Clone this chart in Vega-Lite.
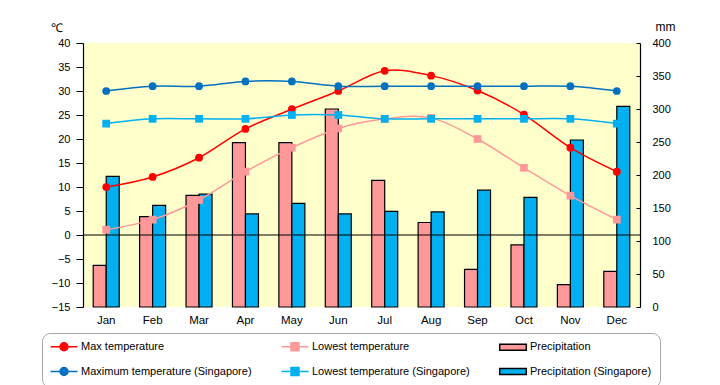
{
  "$schema": "https://vega.github.io/schema/vega-lite/v6.json",
  "width": 557,
  "height": 264,
  "autosize": {"type": "none"},
  "padding": {"left": 83, "top": 43, "right": 80, "bottom": 78},
  "background": "white",
  "config": {
    "view": {"fill": "#FFFFCC", "stroke": null},
    "font": "Liberation Sans",
    "axis": {"labelColor": "black", "labelFont": "Liberation Sans", "labelFontSize": 11, "labelOverlap": false, "grid": false, "domainColor": "black", "tickColor": "black", "titleColor": "black", "titleFont": "Liberation Sans", "titleFontWeight": "normal", "titleFontSize": 12}
  },
  "datasets": {
    "climate": [
      {"month": "Jan", "series": "Max temperature", "value": 10},
      {"month": "Feb", "series": "Max temperature", "value": 12.1},
      {"month": "Mar", "series": "Max temperature", "value": 16.1},
      {"month": "Apr", "series": "Max temperature", "value": 22.1},
      {"month": "May", "series": "Max temperature", "value": 26.2},
      {"month": "Jun", "series": "Max temperature", "value": 30},
      {"month": "Jul", "series": "Max temperature", "value": 34.2},
      {"month": "Aug", "series": "Max temperature", "value": 33.2},
      {"month": "Sep", "series": "Max temperature", "value": 30.1},
      {"month": "Oct", "series": "Max temperature", "value": 25.1},
      {"month": "Nov", "series": "Max temperature", "value": 18.2},
      {"month": "Dec", "series": "Max temperature", "value": 13.2},
      {"month": "Jan", "series": "Lowest temperature", "value": 1.1},
      {"month": "Feb", "series": "Lowest temperature", "value": 3.2},
      {"month": "Mar", "series": "Lowest temperature", "value": 7.3},
      {"month": "Apr", "series": "Lowest temperature", "value": 13.2},
      {"month": "May", "series": "Lowest temperature", "value": 18.2},
      {"month": "Jun", "series": "Lowest temperature", "value": 22.2},
      {"month": "Jul", "series": "Lowest temperature", "value": 24.2},
      {"month": "Aug", "series": "Lowest temperature", "value": 24.4},
      {"month": "Sep", "series": "Lowest temperature", "value": 20},
      {"month": "Oct", "series": "Lowest temperature", "value": 14},
      {"month": "Nov", "series": "Lowest temperature", "value": 8.2},
      {"month": "Dec", "series": "Lowest temperature", "value": 3.2},
      {"month": "Jan", "series": "Precipitation", "value": 63},
      {"month": "Feb", "series": "Precipitation", "value": 137},
      {"month": "Mar", "series": "Precipitation", "value": 169},
      {"month": "Apr", "series": "Precipitation", "value": 249},
      {"month": "May", "series": "Precipitation", "value": 249},
      {"month": "Jun", "series": "Precipitation", "value": 300},
      {"month": "Jul", "series": "Precipitation", "value": 192},
      {"month": "Aug", "series": "Precipitation", "value": 128},
      {"month": "Sep", "series": "Precipitation", "value": 57},
      {"month": "Oct", "series": "Precipitation", "value": 94},
      {"month": "Nov", "series": "Precipitation", "value": 34},
      {"month": "Dec", "series": "Precipitation", "value": 54},
      {"month": "Jan", "series": "Maximum temperature (Singapore)", "value": 30},
      {"month": "Feb", "series": "Maximum temperature (Singapore)", "value": 31},
      {"month": "Mar", "series": "Maximum temperature (Singapore)", "value": 31},
      {"month": "Apr", "series": "Maximum temperature (Singapore)", "value": 32},
      {"month": "May", "series": "Maximum temperature (Singapore)", "value": 32},
      {"month": "Jun", "series": "Maximum temperature (Singapore)", "value": 31},
      {"month": "Jul", "series": "Maximum temperature (Singapore)", "value": 31},
      {"month": "Aug", "series": "Maximum temperature (Singapore)", "value": 31},
      {"month": "Sep", "series": "Maximum temperature (Singapore)", "value": 31},
      {"month": "Oct", "series": "Maximum temperature (Singapore)", "value": 31},
      {"month": "Nov", "series": "Maximum temperature (Singapore)", "value": 31},
      {"month": "Dec", "series": "Maximum temperature (Singapore)", "value": 30},
      {"month": "Jan", "series": "Lowest temperature (Singapore)", "value": 23.2},
      {"month": "Feb", "series": "Lowest temperature (Singapore)", "value": 24.2},
      {"month": "Mar", "series": "Lowest temperature (Singapore)", "value": 24.2},
      {"month": "Apr", "series": "Lowest temperature (Singapore)", "value": 24.2},
      {"month": "May", "series": "Lowest temperature (Singapore)", "value": 25},
      {"month": "Jun", "series": "Lowest temperature (Singapore)", "value": 25},
      {"month": "Jul", "series": "Lowest temperature (Singapore)", "value": 24.2},
      {"month": "Aug", "series": "Lowest temperature (Singapore)", "value": 24.2},
      {"month": "Sep", "series": "Lowest temperature (Singapore)", "value": 24.2},
      {"month": "Oct", "series": "Lowest temperature (Singapore)", "value": 24.2},
      {"month": "Nov", "series": "Lowest temperature (Singapore)", "value": 24.2},
      {"month": "Dec", "series": "Lowest temperature (Singapore)", "value": 23.2},
      {"month": "Jan", "series": "Precipitation (Singapore)", "value": 198},
      {"month": "Feb", "series": "Precipitation (Singapore)", "value": 154},
      {"month": "Mar", "series": "Precipitation (Singapore)", "value": 171},
      {"month": "Apr", "series": "Precipitation (Singapore)", "value": 141},
      {"month": "May", "series": "Precipitation (Singapore)", "value": 157},
      {"month": "Jun", "series": "Precipitation (Singapore)", "value": 141},
      {"month": "Jul", "series": "Precipitation (Singapore)", "value": 145},
      {"month": "Aug", "series": "Precipitation (Singapore)", "value": 144},
      {"month": "Sep", "series": "Precipitation (Singapore)", "value": 177},
      {"month": "Oct", "series": "Precipitation (Singapore)", "value": 166},
      {"month": "Nov", "series": "Precipitation (Singapore)", "value": 253},
      {"month": "Dec", "series": "Precipitation (Singapore)", "value": 304}
    ]
  },
  "data": {"name": "climate"},
  "layer": [
    {
      "transform": [{"filter": {"field": "series", "oneOf": ["Precipitation", "Precipitation (Singapore)"]}}],
      "mark": {"type": "bar", "stroke": "black", "strokeWidth": 1.2},
      "encoding": {
        "x": {"field": "month", "type": "nominal", "sort": ["Jan","Feb","Mar","Apr","May","Jun","Jul","Aug","Sep","Oct","Nov","Dec"], "scale": {"paddingInner": 0.44, "paddingOuter": 0.22}, "axis": {"title": null, "domain": false, "ticks": false, "tickSize": 0, "labelPadding": 7, "labelAngle": 0, "labelFontSize": 11.5}},
        "xOffset": {"field": "series", "type": "nominal", "sort": ["Precipitation", "Precipitation (Singapore)"], "scale": {"paddingInner": 0, "paddingOuter": 0}},
        "y": {"field": "value", "type": "quantitative", "scale": {"domain": [0, 400], "nice": false}, "axis": {"orient": "right", "values": [0,50,100,150,200,250,300,350,400], "tickCount": 9, "labelOverlap": false, "title": "mm", "titleAngle": 0, "titleX": 25, "titleY": -17, "titleAlign": "center", "titleBaseline": "middle", "tickSize": -4, "labelPadding": 16, "domainWidth": 1.2}},
        "color": {"field": "series", "type": "nominal", "scale": {"domain": ["Max temperature", "Lowest temperature", "Precipitation", "Maximum temperature (Singapore)", "Lowest temperature (Singapore)", "Precipitation (Singapore)"], "range": ["#FF0000", "#FF9999", "#FF9999", "#0070C0", "#00B0F0", "#00B0F0"]},
          "legend": {"title": null, "orient": "none", "legendX": -41, "legendY": 290, "columns": 3, "direction": "horizontal", "gridAlign": "each", "columnPadding": 26, "rowPadding": 10, "padding": 8, "symbolSize": 64, "symbolStrokeWidth": 1.5, "labelFont": "Liberation Sans", "labelFontSize": 11, "labelColor": "black", "labelOffset": 20, "labelLimit": 400, "strokeColor": "#A6A6A6", "fillColor": "white", "cornerRadius": 8,
            "encoding": {"symbols": {"stroke": {"value": {"expr": "indexof(datum.value, 'Precipitation') === 0 ? 'black' : scale('color', datum.value)"}}, "strokeWidth": {"value": 1.5}, "opacity": {"value": 1}}}}}
      }
    },
    {
      "layer": [
        {
          "data": {"values": [{}]},
          "mark": {"type": "rule", "color": "black", "strokeWidth": 1.2},
          "encoding": {"y": {"datum": 0, "type": "quantitative"}}
        },
        {
          "transform": [{"filter": {"field": "series", "oneOf": ["Max temperature", "Lowest temperature", "Maximum temperature (Singapore)", "Lowest temperature (Singapore)"]}}],
          "mark": {"type": "line", "strokeWidth": 1.5, "interpolate": "cardinal"},
          "encoding": {
            "x": {"field": "month", "type": "nominal", "sort": ["Jan","Feb","Mar","Apr","May","Jun","Jul","Aug","Sep","Oct","Nov","Dec"]},
            "y": {"field": "value", "type": "quantitative", "scale": {"domain": [-15, 40], "nice": false}, "axis": {"orient": "left", "values": [-15,-10,-5,0,5,10,15,20,25,30,35,40], "tickCount": 12, "labelOverlap": false, "labelBound": false, "title": "℃", "titleAngle": 0, "titleX": -27, "titleY": -16, "titleAlign": "center", "titleBaseline": "middle", "tickSize": 7, "labelPadding": 6, "domainWidth": 1.2}},
            "stroke": {"field": "series", "type": "nominal", "scale": {"domain": ["Max temperature", "Lowest temperature", "Maximum temperature (Singapore)", "Lowest temperature (Singapore)"], "range": ["#FF0000", "#FF9999", "#0070C0", "#00B0F0"]}, "legend": null},
            "detail": {"field": "series"}
          }
        },
        {
          "transform": [{"filter": {"field": "series", "oneOf": ["Max temperature", "Maximum temperature (Singapore)"]}}],
          "mark": {"type": "point", "filled": true, "shape": "circle", "size": 60, "opacity": 1},
          "encoding": {
            "x": {"field": "month", "type": "nominal", "sort": ["Jan","Feb","Mar","Apr","May","Jun","Jul","Aug","Sep","Oct","Nov","Dec"]},
            "y": {"field": "value", "type": "quantitative"},
            "color": {"field": "series", "type": "nominal"}
          }
        },
        {
          "transform": [{"filter": {"field": "series", "oneOf": ["Lowest temperature", "Lowest temperature (Singapore)"]}}],
          "mark": {"type": "point", "filled": true, "shape": "square", "size": 60, "opacity": 1},
          "encoding": {
            "x": {"field": "month", "type": "nominal", "sort": ["Jan","Feb","Mar","Apr","May","Jun","Jul","Aug","Sep","Oct","Nov","Dec"]},
            "y": {"field": "value", "type": "quantitative"},
            "color": {"field": "series", "type": "nominal"}
          }
        },
        {
          "transform": [{"filter": "false"}],
          "mark": {"type": "point", "filled": true},
          "encoding": {
            "x": {"field": "month", "type": "nominal", "sort": ["Jan","Feb","Mar","Apr","May","Jun","Jul","Aug","Sep","Oct","Nov","Dec"]},
            "y": {"field": "value", "type": "quantitative"},
            "color": {"field": "series", "type": "nominal"},
            "shape": {
              "field": "series", "type": "nominal",
              "scale": {"domain": ["Max temperature", "Lowest temperature", "Precipitation", "Maximum temperature (Singapore)", "Lowest temperature (Singapore)", "Precipitation (Singapore)"],
                "range": ["M-1.25,0L5.5,0M1.125,0A1,1,0,1,0,3.125,0A1,1,0,1,0,1.125,0Z", "M-1.25,0L5.5,0M1.125,-1L3.125,-1L3.125,1L1.125,1Z", "M-1.2,-0.75L5.45,-0.75L5.45,0.75L-1.2,0.75Z", "M-1.25,0L5.5,0M1.125,0A1,1,0,1,0,3.125,0A1,1,0,1,0,1.125,0Z", "M-1.25,0L5.5,0M1.125,-1L3.125,-1L3.125,1L1.125,1Z", "M-1.2,-0.75L5.45,-0.75L5.45,0.75L-1.2,0.75Z"]}
            }
          }
        }
      ]
    }
  ],
  "resolve": {"scale": {"y": "independent"}}
}
